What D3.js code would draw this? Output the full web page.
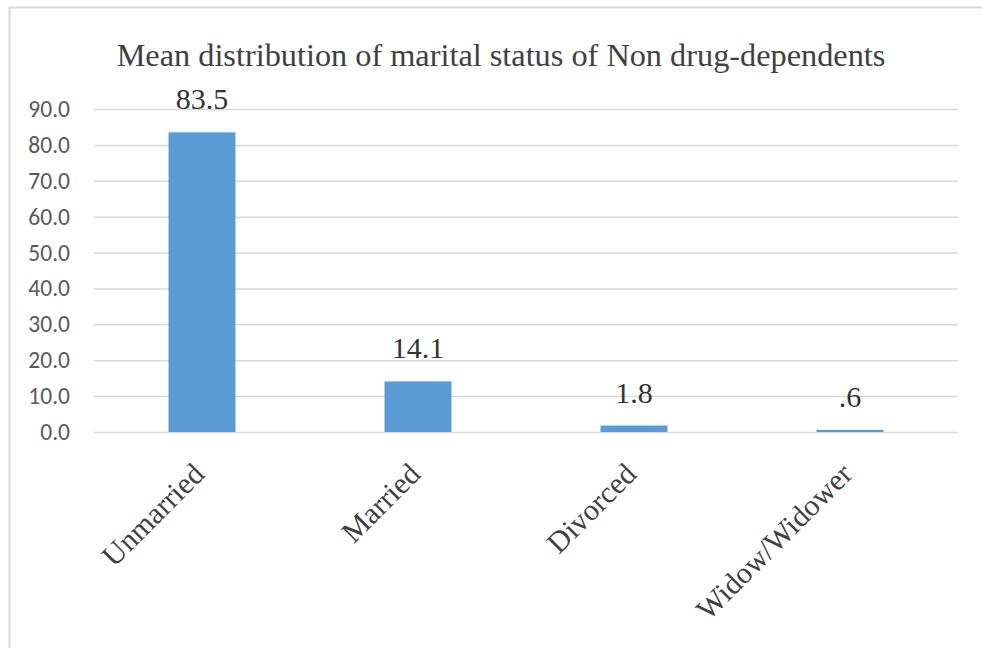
<!DOCTYPE html>
<html>
<head>
<meta charset="utf-8">
<script src="https://cdn.jsdelivr.net/npm/d3@7"></script>
<style>
  html, body { margin: 0; padding: 0; background: #ffffff; }
  svg { display: block; }
</style>
</head>
<body>
<svg id="chart" width="982" height="648"></svg>
<script>
// Marital status categories and their mean shares
const categories = ["Unmarried", "Married", "Divorced", "Widow/Widower"];
const values = [83.5, 14.1, 1.8, 0.6];
const valueLabels = ["83.5", "14.1", "1.8", ".6"];
const yTicks = [0, 10, 20, 30, 40, 50, 60, 70, 80, 90];
const title = "Mean distribution of marital status of Non drug-dependents";

const svg = d3.select("#chart");
const W = 982, H = 648;
const serif = "'Liberation Serif', 'Times New Roman', serif";

// Chart area frame
svg.append("rect")
  .attr("x", 9.5).attr("y", 7.5)
  .attr("width", W + 20).attr("height", H + 20)
  .attr("fill", "#ffffff")
  .attr("stroke", "#d9d9d9")
  .attr("stroke-width", 2);

const plot = { left: 94, right: 958, top: 109, bottom: 432 };

const x = d3.scaleBand()
  .domain(categories)
  .range([plot.left, plot.right])
  .paddingInner(0.69)
  .paddingOuter(0.345);

const y = d3.scaleLinear()
  .domain([0, 90])
  .range([plot.bottom, plot.top]);

// Title
svg.append("text")
  .attr("x", 501).attr("y", 66)
  .attr("text-anchor", "middle")
  .attr("font-family", serif)
  .attr("font-size", 32.3)
  .attr("fill", "#404040")
  .text(title);

// Horizontal gridlines and y-axis labels
const yAxis = d3.axisLeft(y)
  .tickValues(yTicks)
  .tickSize(-(plot.right - plot.left))
  .tickPadding(24)
  .tickFormat(d3.format(".1f"));

const gy = svg.append("g")
  .attr("transform", `translate(${plot.left},0)`)
  .call(yAxis);
gy.select(".domain").remove();
gy.selectAll(".tick line")
  .attr("stroke", "#d9d9d9")
  .attr("stroke-width", 1.5);
gy.selectAll(".tick text")
  .attr("font-family", "Carlito, 'Liberation Sans', 'Open Sans', sans-serif")
  .attr("font-size", 23.5)
  .attr("fill", "#595959");

// Bars
svg.append("g")
  .selectAll("rect")
  .data(values)
  .join("rect")
  .attr("x", (d, i) => x(categories[i]))
  .attr("y", d => y(d))
  .attr("width", x.bandwidth())
  .attr("height", d => y(0) - y(d))
  .attr("fill", "#5b9bd5");

// Value labels above the bars
svg.append("g")
  .selectAll("text")
  .data(values)
  .join("text")
  .attr("x", (d, i) => x(categories[i]) + x.bandwidth() / 2)
  .attr("y", d => y(d) - 23)
  .attr("text-anchor", "middle")
  .attr("font-family", serif)
  .attr("font-size", 30)
  .attr("fill", "#333333")
  .text((d, i) => valueLabels[i]);

// Rotated category labels
const xAxis = d3.axisBottom(x).tickSize(0).tickPadding(0);
const gx = svg.append("g")
  .attr("transform", `translate(0,${plot.bottom})`)
  .call(xAxis);
gx.select(".domain").remove();
gx.selectAll(".tick text")
  .attr("font-family", serif)
  .attr("font-size", 30)
  .attr("fill", "#404040")
  .attr("text-anchor", "end")
  .attr("dy", 0)
  .attr("transform", "translate(4,44) rotate(-45)");
</script>
</body>
</html>
